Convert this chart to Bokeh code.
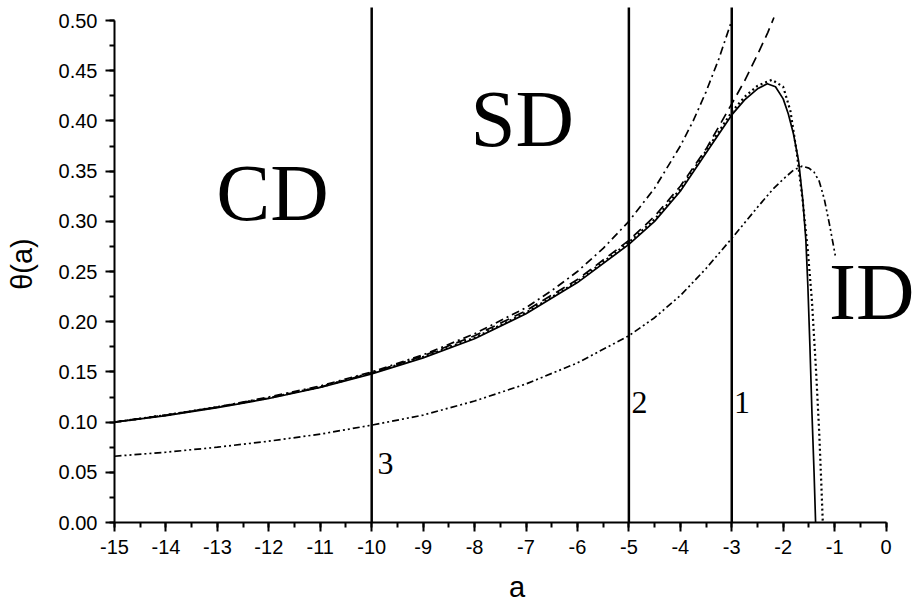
import math
from bokeh.plotting import figure
from bokeh.models import Range1d, SingleIntervalTicker, PrintfTickFormatter, Label
from bokeh.embed import file_html
from bokeh.resources import INLINE

# ---- data ----
solid_a = [-15, -14, -13, -12, -11, -10, -9, -8, -7, -6, -5, -4.5, -4, -3.5, -3, -2.75, -2.5, -2.31,
           -2.15, -2.0, -1.9, -1.8, -1.7, -1.62, -1.56, -1.52, -1.48, -1.44, -1.40, -1.37]
solid_v = [0.100, 0.1065, 0.1145, 0.1235, 0.1345, 0.148, 0.164, 0.183, 0.208, 0.239, 0.277, 0.300,
           0.330, 0.368, 0.406, 0.421, 0.432, 0.437, 0.434, 0.422, 0.407, 0.387, 0.360, 0.322,
           0.282, 0.235, 0.175, 0.108, 0.050, 0.0]

dotted_a = [-15, -14, -13, -12, -11, -10, -9, -8, -7, -6, -5, -4.5, -4, -3.5, -3, -2.75, -2.5, -2.22,
            -2.0, -1.86, -1.74, -1.62, -1.52, -1.44, -1.36, -1.30, -1.26, -1.23]
dotted_v = [0.100, 0.107, 0.115, 0.124, 0.135, 0.149, 0.165, 0.184, 0.209, 0.240, 0.279, 0.302,
            0.332, 0.370, 0.409, 0.424, 0.435, 0.441, 0.434, 0.410, 0.370, 0.320, 0.270, 0.220,
            0.150, 0.090, 0.040, 0.0]

dashed_a = [-15, -14, -13, -12, -11, -10, -9, -8, -7, -6, -5, -4.5, -4, -3.5, -3, -2.75, -2.5,
            -2.3, -2.18]
dashed_v = [0.100, 0.107, 0.115, 0.124, 0.135, 0.149, 0.166, 0.186, 0.211, 0.242, 0.281, 0.305,
            0.335, 0.372, 0.417, 0.440, 0.466, 0.488, 0.503]

dashdot_a = [-15, -14, -13, -12, -11, -10, -9, -8, -7, -6.5, -6, -5.5, -5, -4.5, -4, -3.75, -3.5,
             -3.25, -3]
dashdot_v = [0.100, 0.107, 0.115, 0.125, 0.136, 0.150, 0.167, 0.188, 0.214, 0.231, 0.250, 0.273,
             0.300, 0.333, 0.375, 0.400, 0.429, 0.462, 0.500]

lower_a = [-15, -14, -13, -12, -11, -10, -9, -8, -7, -6, -5, -4.5, -4, -3.5, -3, -2.5, -2.2,
           -2.0, -1.8, -1.63, -1.5, -1.4, -1.3, -1.2, -1.1, -0.98]
lower_v = [0.066, 0.070, 0.075, 0.081, 0.088, 0.097, 0.107, 0.121, 0.138, 0.159, 0.186, 0.204,
           0.226, 0.253, 0.283, 0.314, 0.332, 0.342, 0.351, 0.355, 0.353, 0.349, 0.340, 0.322,
           0.297, 0.264]

vline_a = [-10, -5, -3]
vline_names = ["3", "2", "1"]
region_names = ["CD", "SD", "ID"]

x_ticks_interval = 1
y_ticks_interval = 0.05

p = figure(width=919, height=607,
           x_range=Range1d(-15, 0.65), y_range=Range1d(0, 0.515),
           output_backend="svg", toolbar_location=None,
           min_border_left=114, min_border_right=0, min_border_top=5, min_border_bottom=85)
p.xgrid.visible = False
p.ygrid.visible = False
p.outline_line_color = None
p.background_fill_color = "white"
p.border_fill_color = "white"

sans = "Liberation Sans"
serif = "Liberation Serif"

xa = p.xaxis[0]
xa.ticker = SingleIntervalTicker(interval=x_ticks_interval, num_minor_ticks=2)
xa.bounds = (-15, 0)
xa.formatter = PrintfTickFormatter(format="%d")
ya = p.yaxis[0]
ya.ticker = SingleIntervalTicker(interval=y_ticks_interval, num_minor_ticks=2)
ya.bounds = (0, 0.5)
ya.formatter = PrintfTickFormatter(format="%.2f")
for ax in (xa, ya):
    ax.major_tick_in = 0
    ax.major_tick_out = 9
    ax.minor_tick_in = 0
    ax.minor_tick_out = 5
    ax.axis_line_width = 2
    ax.major_tick_line_width = 2
    ax.minor_tick_line_width = 2
    ax.axis_line_color = "black"
    ax.major_tick_line_color = "black"
    ax.minor_tick_line_color = "black"
    ax.major_label_text_font = sans
    ax.major_label_text_font_size = "20px"
    ax.major_label_text_color = "black"
    ax.major_label_standoff = 8
    ax.axis_label_text_font = sans
    ax.axis_label_text_font_size = "29px"
    ax.axis_label_text_font_style = "normal"
    ax.axis_label_text_color = "black"
xa.axis_label = "a"
xa.axis_label_standoff = 14
ya.axis_label = "θ(a)"
ya.axis_label_standoff = 18

lw = 1.7
p.line(lower_a, lower_v, line_color="black", line_width=lw, line_dash="7 3 2 3 2 3")
p.line(dashdot_a, dashdot_v, line_color="black", line_width=lw, line_dash="8 4 2 4")
p.line(dashed_a, dashed_v, line_color="black", line_width=lw, line_dash="10 6")
p.line(dotted_a, dotted_v, line_color="black", line_width=2.2, line_dash="2 3")
p.line(solid_a, solid_v, line_color="black", line_width=lw)

p.segment(x0=vline_a, y0=[0] * len(vline_a), x1=vline_a, y1=[0.513] * len(vline_a),
          line_color="black", line_width=2.5)

num_pos = [(-9.886, 0.0585), (-4.947, 0.1195), (-2.956, 0.1195)]
for name, (xx, yy) in zip(vline_names, num_pos):
    p.add_layout(Label(x=xx, y=yy, text=name, text_font=serif, text_font_size="32px",
                       text_color="black", text_baseline="alphabetic", text_align="left"))

reg_pos = [(-13.02, 0.328), (-8.08, 0.402), (-1.11, 0.230)]
for name, (xx, yy) in zip(region_names, reg_pos):
    p.add_layout(Label(x=xx, y=yy, text=name, text_font=serif, text_font_size="81px",
                       text_color="black", text_baseline="alphabetic", text_align="left"))

open("out.html", "w").write(file_html(p, INLINE))
